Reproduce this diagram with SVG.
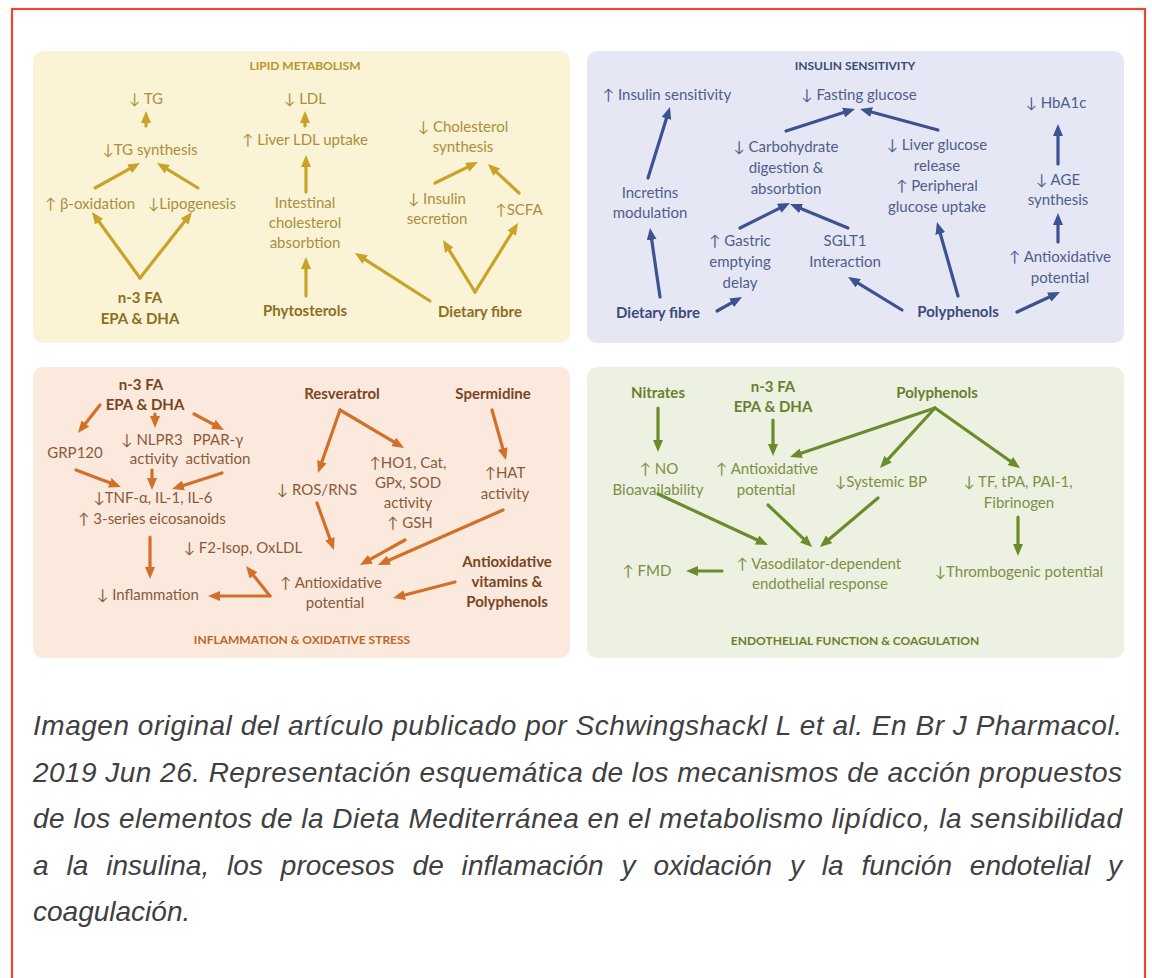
<svg xmlns="http://www.w3.org/2000/svg" width="1152" height="978" viewBox="0 0 1152 978">
  <defs>
    <style>
      .t { font-family: Lato, "Liberation Sans", "DejaVu Sans", sans-serif; font-size: 15px; text-anchor: middle; }
      .b { font-weight: bold; }
      .h { font-family: Lato, "Liberation Sans", sans-serif; font-size: 12px; font-weight: bold; text-anchor: middle; }
      .lip { fill: #a98f3c; } .lip.b { fill: #8a6f1e; } .lip.h { fill: #b8952a; }
      .ins { fill: #4f5d8c; } .ins.b { fill: #3b4a7a; } .ins.h { fill: #3b4a7a; }
      .inf { fill: #8b5a3a; } .inf.b { fill: #7a4522; } .inf.h { fill: #c0652a; }
      .end { fill: #7c8f45; } .end.b { fill: #6a7f2e; } .end.h { fill: #6a7f2e; }
      .a { fill: none; stroke-width: 3.2; stroke-linecap: round; }
      .ag { stroke: #c9a227; marker-end: url(#mg); }
      .ab { stroke: #3e5190; marker-end: url(#mb); }
      .ao { stroke: #d2702a; marker-end: url(#mo); }
      .av { stroke: #6a8c2a; marker-end: url(#mv); }
      .cap { font-family: "Liberation Sans", Arial, sans-serif; font-size: 28px; font-style: italic; fill: #404040; }
    </style>
    <marker id="mg" viewBox="0 0 12 10" refX="5" refY="5" markerWidth="12" markerHeight="10" markerUnits="userSpaceOnUse" orient="auto"><path d="M0,0 L12,5 L0,10 Z" fill="#c9a227"/></marker>
    <marker id="mb" viewBox="0 0 12 10" refX="5" refY="5" markerWidth="12" markerHeight="10" markerUnits="userSpaceOnUse" orient="auto"><path d="M0,0 L12,5 L0,10 Z" fill="#3e5190"/></marker>
    <marker id="mo" viewBox="0 0 12 10" refX="5" refY="5" markerWidth="12" markerHeight="10" markerUnits="userSpaceOnUse" orient="auto"><path d="M0,0 L12,5 L0,10 Z" fill="#d2702a"/></marker>
    <marker id="mv" viewBox="0 0 12 10" refX="5" refY="5" markerWidth="12" markerHeight="10" markerUnits="userSpaceOnUse" orient="auto"><path d="M0,0 L12,5 L0,10 Z" fill="#6a8c2a"/></marker>
  </defs>

  <rect width="1152" height="978" fill="#ffffff"/>
  <!-- outer frame, open at the bottom edge of the page -->
  <rect x="12" y="9" width="1133" height="1000" fill="none" stroke="#e8492b" stroke-width="2.2"/>

  <!-- panel backgrounds -->
  <g id="panels">
    <rect x="33" y="51" width="537" height="292" rx="10" fill="#fbf3d6"/>
    <rect x="587" y="51" width="537" height="292" rx="10" fill="#e5e8f4"/>
    <rect x="33" y="367" width="537" height="291" rx="10" fill="#fbe9de"/>
    <rect x="587" y="367" width="537" height="291" rx="10" fill="#edf1e2"/>
  </g>

  <!-- LIPID METABOLISM -->
  <g id="lipid">
    <text class="h lip" x="305" y="70">LIPID METABOLISM</text>
    <g id="lip-tg"><text class="t lip" x="146" y="104">↓ TG</text></g>
    <g id="lip-tgsyn"><text class="t lip" x="150" y="155">↓TG synthesis</text></g>
    <g id="lip-box"><text class="t lip" x="90" y="209">↑ β-oxidation</text></g>
    <g id="lip-lipo"><text class="t lip" x="192" y="209">↓Lipogenesis</text></g>
    <g id="lip-n3"><text class="t b lip" x="140" y="303">n-3 FA</text><text class="t b lip" x="140" y="324">EPA &amp; DHA</text></g>
    <g id="lip-ldl"><text class="t lip" x="305" y="104">↓ LDL</text></g>
    <g id="lip-liver"><text class="t lip" x="305" y="145">↑ Liver LDL uptake</text></g>
    <g id="lip-intest"><text class="t lip" x="305" y="208">Intestinal</text><text class="t lip" x="305" y="228">cholesterol</text><text class="t lip" x="305" y="248">absorbtion</text></g>
    <g id="lip-phyto"><text class="t b lip" x="305" y="316">Phytosterols</text></g>
    <g id="lip-chol"><text class="t lip" x="463" y="132">↓ Cholesterol</text><text class="t lip" x="463" y="152">synthesis</text></g>
    <g id="lip-insec"><text class="t lip" x="437" y="204">↓ Insulin</text><text class="t lip" x="437" y="224">secretion</text></g>
    <g id="lip-scfa"><text class="t lip" x="519" y="215">↑SCFA</text></g>
    <g id="lip-fibre"><text class="t b lip" x="480" y="317">Dietary fibre</text></g>
  </g>

  <!-- INSULIN SENSITIVITY -->
  <g id="insulin">
    <text class="h ins" x="855" y="70">INSULIN SENSITIVITY</text>
    <g id="ins-sens"><text class="t ins" x="667" y="100">↑ Insulin sensitivity</text></g>
    <g id="ins-fast"><text class="t ins" x="859" y="100">↓ Fasting glucose</text></g>
    <g id="ins-incr"><text class="t ins" x="650" y="198">Incretins</text><text class="t ins" x="650" y="218">modulation</text></g>
    <g id="ins-carb"><text class="t ins" x="786" y="152">↓ Carbohydrate</text><text class="t ins" x="786" y="173">digestion &amp;</text><text class="t ins" x="786" y="194">absorbtion</text></g>
    <g id="ins-liver"><text class="t ins" x="937" y="150">↓ Liver glucose</text><text class="t ins" x="937" y="171">release</text><text class="t ins" x="937" y="191">↑ Peripheral</text><text class="t ins" x="937" y="212">glucose uptake</text></g>
    <g id="ins-gast"><text class="t ins" x="740" y="246">↑ Gastric</text><text class="t ins" x="740" y="267">emptying</text><text class="t ins" x="740" y="288">delay</text></g>
    <g id="ins-sglt"><text class="t ins" x="845" y="246">SGLT1</text><text class="t ins" x="845" y="267">Interaction</text></g>
    <g id="ins-fibre"><text class="t b ins" x="658" y="318">Dietary fibre</text></g>
    <g id="ins-poly"><text class="t b ins" x="958" y="317">Polyphenols</text></g>
    <g id="ins-hba"><text class="t ins" x="1056" y="108">↓ HbA1c</text></g>
    <g id="ins-age"><text class="t ins" x="1058" y="185">↓ AGE</text><text class="t ins" x="1058" y="205">synthesis</text></g>
    <g id="ins-anti"><text class="t ins" x="1060" y="262">↑ Antioxidative</text><text class="t ins" x="1060" y="283">potential</text></g>
  </g>

  <!-- INFLAMMATION & OXIDATIVE STRESS -->
  <g id="inflammation">
    <text class="h inf" x="302" y="644">INFLAMMATION &amp; OXIDATIVE STRESS</text>
    <g id="inf-n3"><text class="t b inf" x="141" y="390">n-3 FA</text><text class="t b inf" x="145" y="410">EPA &amp; DHA</text></g>
    <g id="inf-grp"><text class="t inf" x="75" y="458">GRP120</text></g>
    <g id="inf-nlpr"><text class="t inf" x="152" y="445">↓ NLPR3</text><text class="t inf" x="154" y="464">activity</text></g>
    <g id="inf-ppar"><text class="t inf" x="218" y="445">PPAR-γ</text><text class="t inf" x="218" y="464">activation</text></g>
    <g id="inf-tnf"><text class="t inf" x="153" y="503">↓TNF-α, IL-1, IL-6</text><text class="t inf" x="152" y="524">↑ 3-series eicosanoids</text></g>
    <g id="inf-infl"><text class="t inf" x="148" y="600">↓ Inflammation</text></g>
    <g id="inf-f2"><text class="t inf" x="243" y="553">↓ F2-Isop, OxLDL</text></g>
    <g id="inf-anti"><text class="t inf" x="331" y="588">↑ Antioxidative</text><text class="t inf" x="335" y="608">potential</text></g>
    <g id="inf-resv"><text class="t b inf" x="342" y="399">Resveratrol</text></g>
    <g id="inf-ros"><text class="t inf" x="317" y="495">↓ ROS/RNS</text></g>
    <g id="inf-ho1"><text class="t inf" x="408" y="468">↑HO1, Cat,</text><text class="t inf" x="408" y="488">GPx, SOD</text><text class="t inf" x="408" y="508">activity</text><text class="t inf" x="410" y="528">↑ GSH</text></g>
    <g id="inf-sperm"><text class="t b inf" x="493" y="399">Spermidine</text></g>
    <g id="inf-hat"><text class="t inf" x="505" y="478">↑HAT</text><text class="t inf" x="505" y="499">activity</text></g>
    <g id="inf-vit"><text class="t b inf" x="507" y="567">Antioxidative</text><text class="t b inf" x="507" y="587">vitamins &amp;</text><text class="t b inf" x="507" y="607">Polyphenols</text></g>
  </g>

  <!-- ENDOTHELIAL FUNCTION & COAGULATION -->
  <g id="endothelial">
    <text class="h end" x="855" y="645">ENDOTHELIAL FUNCTION &amp; COAGULATION</text>
    <g id="end-nitr"><text class="t b end" x="658" y="398">Nitrates</text></g>
    <g id="end-no"><text class="t end" x="659" y="474">↑ NO</text><text class="t end" x="658" y="495">Bioavailability</text></g>
    <g id="end-n3"><text class="t b end" x="773" y="392">n-3 FA</text><text class="t b end" x="773" y="412">EPA &amp; DHA</text></g>
    <g id="end-anti"><text class="t end" x="767" y="474">↑ Antioxidative</text><text class="t end" x="766" y="495">potential</text></g>
    <g id="end-poly"><text class="t b end" x="937" y="398">Polyphenols</text></g>
    <g id="end-bp"><text class="t end" x="881" y="487">↓Systemic BP</text></g>
    <g id="end-tf"><text class="t end" x="1018" y="487">↓ TF, tPA, PAI-1,</text><text class="t end" x="1019" y="508">Fibrinogen</text></g>
    <g id="end-throm"><text class="t end" x="1019" y="577">↓Thrombogenic potential</text></g>
    <g id="end-vaso"><text class="t end" x="819" y="569">↑ Vasodilator-dependent</text><text class="t end" x="820" y="589">endothelial response</text></g>
    <g id="end-fmd"><text class="t end" x="647" y="576">↑ FMD</text></g>
  </g>

  <!-- connectors -->
  <g id="connectors">
    <!-- lipid -->
    <line class="a ag" x1="146" y1="126" x2="146" y2="118"/>
    <line class="a ag" x1="95" y1="188" x2="133.9" y2="166.4"/>
    <line class="a ag" x1="198" y1="188" x2="163" y2="166.6"/>
    <line class="a ag" x1="140" y1="278" x2="96.1" y2="217.7"/>
    <line class="a ag" x1="140" y1="278" x2="187.7" y2="217.5"/>
    <line class="a ag" x1="305" y1="126" x2="305" y2="118"/>
    <line class="a ag" x1="306" y1="192" x2="306" y2="162"/>
    <line class="a ag" x1="306" y1="296" x2="306" y2="264"/>
    <line class="a ag" x1="435" y1="183" x2="471.7" y2="165.1"/>
    <line class="a ag" x1="519" y1="193" x2="493.1" y2="168.8"/>
    <line class="a ag" x1="475" y1="292" x2="446.7" y2="246"/>
    <line class="a ag" x1="475" y1="292" x2="514.3" y2="228.9"/>
    <line class="a ag" x1="430" y1="301" x2="360.9" y2="256.8"/>
    <!-- insulin -->
    <line class="a ab" x1="648" y1="178" x2="667.9" y2="113.7"/>
    <line class="a ab" x1="660" y1="297" x2="651" y2="234.9"/>
    <line class="a ab" x1="717" y1="311" x2="735.9" y2="300.4"/>
    <line class="a ab" x1="740" y1="228" x2="783.7" y2="206.1"/>
    <line class="a ab" x1="848" y1="228" x2="796.5" y2="206.7"/>
    <line class="a ab" x1="786" y1="131" x2="848.3" y2="111.1"/>
    <line class="a ab" x1="938" y1="130" x2="866.8" y2="110.8"/>
    <line class="a ab" x1="902" y1="310" x2="854" y2="280.6"/>
    <line class="a ab" x1="958" y1="296" x2="938.9" y2="228.7"/>
    <line class="a ab" x1="1017" y1="312" x2="1053.7" y2="295"/>
    <line class="a ab" x1="1058" y1="242" x2="1058" y2="220"/>
    <line class="a ab" x1="1058" y1="164" x2="1058" y2="131"/>
    <!-- inflammation -->
    <line class="a ao" x1="100" y1="405" x2="82.3" y2="427.5"/>
    <line class="a ao" x1="155" y1="414" x2="155" y2="421"/>
    <line class="a ao" x1="194" y1="414" x2="217.8" y2="426.7"/>
    <line class="a ao" x1="76" y1="470" x2="114.4" y2="484.5"/>
    <line class="a ao" x1="152" y1="470" x2="152" y2="483"/>
    <line class="a ao" x1="222" y1="473" x2="178.7" y2="486.9"/>
    <line class="a ao" x1="150" y1="537" x2="150" y2="572"/>
    <line class="a ao" x1="270" y1="596" x2="215" y2="596"/>
    <line class="a ao" x1="270" y1="596" x2="250.4" y2="571.5"/>
    <line class="a ao" x1="340" y1="410" x2="320.3" y2="466.4"/>
    <line class="a ao" x1="340" y1="410" x2="398" y2="444.4"/>
    <line class="a ao" x1="317" y1="503" x2="331.6" y2="543.4"/>
    <line class="a ao" x1="405" y1="540" x2="366.1" y2="561.6"/>
    <line class="a ao" x1="492" y1="410" x2="504.1" y2="453.3"/>
    <line class="a ao" x1="503" y1="510" x2="384.4" y2="562.2"/>
    <line class="a ao" x1="455" y1="582" x2="399.8" y2="596.3"/>
    <!-- endothelial -->
    <line class="a av" x1="658" y1="408" x2="658" y2="445"/>
    <line class="a av" x1="773" y1="420" x2="773" y2="449"/>
    <line class="a av" x1="935" y1="408" x2="796.6" y2="454.8"/>
    <line class="a av" x1="935" y1="408" x2="884.7" y2="462.8"/>
    <line class="a av" x1="935" y1="408" x2="1014.3" y2="464"/>
    <line class="a av" x1="1018" y1="517" x2="1018" y2="549"/>
    <line class="a av" x1="658" y1="494" x2="761.6" y2="542"/>
    <line class="a av" x1="768" y1="505" x2="807" y2="542.2"/>
    <line class="a av" x1="878" y1="498" x2="825.3" y2="542.5"/>
    <line class="a av" x1="722" y1="571" x2="693" y2="571"/>
  </g>

  <!-- caption -->
  <g id="caption">
    <text class="cap" x="33" y="735" textLength="1089" lengthAdjust="spacing">Imagen original del artículo publicado por Schwingshackl L et al. En Br J Pharmacol.</text>
    <text class="cap" x="33" y="782" textLength="1089" lengthAdjust="spacing">2019 Jun 26. Representación esquemática de los mecanismos de acción propuestos</text>
    <text class="cap" x="33" y="828" textLength="1089" lengthAdjust="spacing">de los elementos de la Dieta Mediterránea en el metabolismo lipídico, la sensibilidad</text>
    <text class="cap" x="33" y="875" word-spacing="10" textLength="1089" lengthAdjust="spacing">a la insulina, los procesos de inflamación y oxidación y la función endotelial y</text>
    <text class="cap" x="33" y="921">coagulación.</text>
  </g>
</svg>
